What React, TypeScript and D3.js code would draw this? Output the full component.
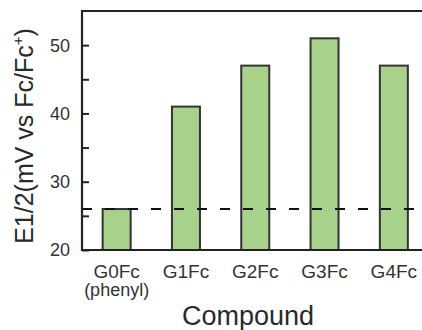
import { useRef, useEffect } from "react";
import * as d3 from "d3";

const compounds = ["G0Fc", "G1Fc", "G2Fc", "G3Fc", "G4Fc"];
const subLabels = ["(phenyl)", "", "", "", ""];
const e12Values = [26, 41, 47, 51, 47];
const refLine = 26;
const majorTicks = [20, 30, 40, 50];
const minorTicks = [25, 35, 45];

export default function App() {
  const svgRef = useRef(null);
  const W = 422;
  const H = 330;
  const margin = { left: 82, top: 11, bottom: 80 };

  useEffect(() => {
    const svg = d3.select(svgRef.current);
    svg.selectAll("*").remove();
    const font = "'Liberation Sans', Arial, sans-serif";
    const ink = "#2a2a2a";

    const y = d3.scaleLinear()
      .domain([20, 55])
      .range([H - margin.bottom, margin.top]);

    const x = d3.scalePoint()
      .domain(compounds)
      .range([margin.left, margin.left + 69.3 * 5])
      .padding(0.5);

    const barW = 28;
    const g = svg.append("g");

    // bars
    g.selectAll("rect.bar")
      .data(compounds)
      .join("rect")
      .attr("class", "bar")
      .attr("x", (d) => (x(d) as number) - barW / 2)
      .attr("y", (d, i) => y(e12Values[i]))
      .attr("width", barW)
      .attr("height", (d, i) => y(20) - y(e12Values[i]))
      .attr("fill", "#a8d18c")
      .attr("stroke", "#333")
      .attr("stroke-width", 2);

    // reference dashed line
    g.append("line")
      .attr("x1", margin.left)
      .attr("x2", W)
      .attr("y1", y(refLine))
      .attr("y2", y(refLine))
      .attr("stroke", "#111")
      .attr("stroke-width", 2)
      .attr("stroke-dasharray", "10,13");

    // frame: left, top, bottom
    g.append("path")
      .attr("d", `M${W},${y(55)}H${margin.left}V${y(20)}H${W}`)
      .attr("fill", "none")
      .attr("stroke", "#222")
      .attr("stroke-width", 2.2);

    // y ticks pointing inward
    const yAxis = d3.axisRight(y)
      .tickValues([...majorTicks, ...minorTicks])
      .tickSize(7)
      .tickFormat(() => "");
    const yAx = g.append("g")
      .attr("transform", `translate(${margin.left},0)`)
      .call(yAxis);
    yAx.select(".domain").remove();
    yAx.selectAll("line").attr("stroke", "#222").attr("stroke-width", 2);

    g.selectAll("text.ytick")
      .data(majorTicks)
      .join("text")
      .attr("class", "ytick")
      .attr("x", margin.left - 12)
      .attr("y", (d) => y(d))
      .attr("dy", "0.36em")
      .attr("text-anchor", "end")
      .attr("font-family", font)
      .attr("font-size", 18)
      .attr("fill", "#333")
      .text((d) => d);

    // x labels
    g.selectAll("text.xtick")
      .data(compounds)
      .join("text")
      .attr("class", "xtick")
      .attr("x", (d) => x(d) as number)
      .attr("y", 278)
      .attr("text-anchor", "middle")
      .attr("font-family", font)
      .attr("font-size", 19)
      .attr("fill", "#333")
      .text((d) => d);

    g.selectAll("text.xsub")
      .data(compounds)
      .join("text")
      .attr("class", "xsub")
      .attr("x", (d) => x(d) as number)
      .attr("y", 296)
      .attr("text-anchor", "middle")
      .attr("font-family", font)
      .attr("font-size", 18)
      .attr("fill", "#333")
      .text((d, i) => subLabels[i]);

    // axis titles
    g.append("text")
      .attr("x", 248)
      .attr("y", 325)
      .attr("text-anchor", "middle")
      .attr("font-family", font)
      .attr("font-size", 27)
      .attr("fill", ink)
      .text("Compound");

    const yt = g.append("text")
      .attr("transform", `translate(33,136) rotate(-90)`)
      .attr("text-anchor", "middle")
      .attr("font-family", font)
      .attr("font-size", 25)
      .attr("fill", ink);
    yt.append("tspan").text("E1/2(mV vs Fc/Fc");
    yt.append("tspan").attr("font-size", 15).attr("dy", -10).text("+");
    yt.append("tspan").attr("dy", 10).text(")");
  }, []);

  return (
    <div style={{ position: "absolute", left: 0, top: 0 }}>
      <svg ref={svgRef} width={W} height={H} style={{ display: "block", background: "#fff" }} />
    </div>
  );
}
